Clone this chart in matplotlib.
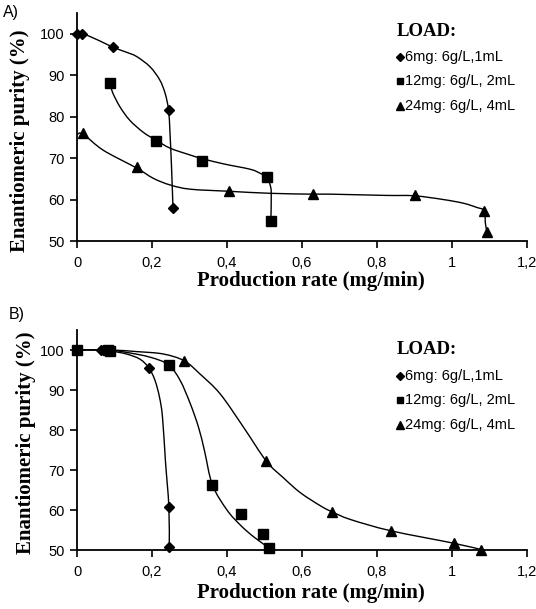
import matplotlib
matplotlib.use("Agg")
import matplotlib.pyplot as plt
from matplotlib.lines import Line2D
from matplotlib.path import Path
from matplotlib.patches import PathPatch
from matplotlib.ticker import FuncFormatter

# ---------------- Panel A: measured points ----------------
a_6mg_x = [0.0, 0.013, 0.097, 0.244, 0.256]
a_6mg_y = [100.0, 100.0, 96.7, 81.7, 57.9]
a_12mg_x = [0.087, 0.211, 0.333, 0.507, 0.517]
a_12mg_y = [88.2, 74.1, 69.4, 65.5, 54.8]
a_24mg_x = [0.016, 0.159, 0.404, 0.629, 0.900, 1.086, 1.093]
a_24mg_y = [76.1, 67.8, 62.0, 61.3, 61.0, 57.3, 52.2]

# Panel A: fitted curves
a_6mg_cx = [0.0, 0.016, 0.060, 0.097, 0.130, 0.159, 0.195, 0.221, 0.235, 0.244, 0.248, 0.252, 0.256]
a_6mg_cy = [100.0, 100.0, 98.3, 96.7, 95.6, 94.5, 92.0, 88.8, 85.6, 81.7, 76.0, 68.0, 57.9]
a_12mg_cx = [0.087, 0.095, 0.115, 0.141, 0.177, 0.211, 0.248, 0.293, 0.333, 0.391, 0.462, 0.489, 0.507, 0.515, 0.518, 0.517]
a_12mg_cy = [88.2, 85.8, 82.3, 79.1, 76.2, 74.3, 72.4, 71.0, 69.9, 68.6, 67.3, 66.3, 65.3, 63.5, 61.5, 54.8]
a_24mg_cx = [0.0, 0.016, 0.070, 0.159, 0.204, 0.249, 0.302, 0.404, 0.516, 0.629, 0.675, 0.822, 0.900, 0.977, 1.031, 1.066, 1.086, 1.089, 1.093]
a_24mg_cy = [75.7, 75.8, 71.9, 67.6, 65.1, 63.5, 62.5, 62.0, 61.5, 61.3, 61.3, 61.0, 60.9, 60.0, 59.1, 58.1, 57.3, 54.3, 52.2]

# ---------------- Panel B: measured points ----------------
b_6mg_x = [0.0, 0.065, 0.192, 0.245, 0.246]
b_6mg_y = [100.0, 100.0, 95.5, 60.8, 50.8]
b_12mg_x = [0.0, 0.083, 0.089, 0.244, 0.361, 0.436, 0.495, 0.511]
b_12mg_y = [100.0, 100.0, 99.8, 96.3, 66.3, 59.1, 54.0, 50.6]
b_24mg_x = [0.286, 0.505, 0.681, 0.837, 1.004, 1.078]
b_24mg_y = [97.3, 72.2, 59.5, 54.8, 51.7, 50.1]

# Panel B: fitted curves
b_6mg_cx = [0.0, 0.065, 0.088, 0.132, 0.168, 0.192, 0.208, 0.220, 0.228, 0.236, 0.245, 0.246]
b_6mg_cy = [100.0, 100.0, 99.8, 99.0, 97.7, 95.5, 92.4, 88.2, 83.2, 72.0, 60.8, 50.8]
b_12mg_cx = [0.0, 0.083, 0.132, 0.195, 0.244, 0.275, 0.302, 0.324, 0.340, 0.361, 0.400, 0.436, 0.471, 0.511]
b_12mg_cy = [100.0, 100.0, 99.4, 98.2, 96.3, 92.4, 86.6, 80.7, 74.8, 66.3, 60.0, 56.2, 53.3, 50.6]
b_24mg_cx = [0.0, 0.089, 0.159, 0.230, 0.286, 0.328, 0.382, 0.444, 0.505, 0.551, 0.596, 0.650, 0.681, 0.730, 0.837, 1.004, 1.078]
b_24mg_cy = [100.0, 100.0, 99.6, 99.0, 97.3, 94.0, 89.0, 80.7, 72.2, 68.0, 64.3, 61.0, 59.5, 57.6, 54.8, 51.7, 50.1]

legend_title = "LOAD:"
legend_labels = ["6mg: 6g/L,1mL", "12mg: 6g/L, 2mL", "24mg: 6g/L, 4mL"]
x_ticks = [0.0, 0.2, 0.4, 0.6, 0.8, 1.0, 1.2]
y_ticks = [50, 60, 70, 80, 90, 100]

W, H = 536, 609
fig = plt.figure(figsize=(W / 100, H / 100), dpi=100)
fig.patch.set_facecolor("white")

SANS = "Liberation Sans"
SERIF = "Liberation Serif"


def px(x, y):
    """Pixel position (from top-left) to figure fraction."""
    return x / W, 1 - y / H


def comma_fmt(v, _pos):
    s = f"{v:.1f}".rstrip("0").rstrip(".")
    return s.replace(".", ",")


def smooth_path(xs, ys):
    """Cubic Bezier path through the given points (Catmull-Rom tangents)."""
    pts = list(zip(xs, ys))
    n = len(pts)
    verts = [pts[0]]
    codes = [Path.MOVETO]
    for i in range(n - 1):
        p0 = pts[i - 1] if i > 0 else pts[i]
        p1 = pts[i]
        p2 = pts[i + 1]
        p3 = pts[i + 2] if i + 2 < n else pts[i + 1]
        c1 = (p1[0] + (p2[0] - p0[0]) / 6, p1[1] + (p2[1] - p0[1]) / 6)
        c2 = (p2[0] - (p3[0] - p1[0]) / 6, p2[1] - (p3[1] - p1[1]) / 6)
        verts += [c1, c2, p2]
        codes += [Path.CURVE4] * 3
    return Path(verts, codes)


def make_axes(left, top, right, bottom):
    x0, y0 = px(left, bottom)
    ax = fig.add_axes([x0, y0, (right - left) / W, (bottom - top) / H])
    ax.set_xlim(0, 1.2)
    ax.set_ylim(50, 105)
    ax.set_xticks(x_ticks)
    ax.set_yticks(y_ticks)
    ax.xaxis.set_major_formatter(FuncFormatter(comma_fmt))
    for s in ("top", "right"):
        ax.spines[s].set_visible(False)
    for s in ("left", "bottom"):
        ax.spines[s].set_linewidth(1.3)
    ax.tick_params(axis="both", direction="out", length=5, width=1.2, labelsize=10.5)
    ax.tick_params(axis="x", pad=6)
    ax.tick_params(axis="y", pad=4)
    for lab in ax.get_xticklabels() + ax.get_yticklabels():
        lab.set_fontfamily(SANS)
    ax.patch.set_alpha(0)
    return ax


def draw_panel(ax, curves, points):
    for cx, cy in curves:
        ax.add_patch(PathPatch(smooth_path(cx, cy), fill=False, edgecolor="black",
                               lw=1.0, zorder=2, clip_on=False))
    markers = ["D", "s", "^"]
    sizes = [5.5, 6.5, 7]
    for (mx, my), m, s in zip(points, markers, sizes):
        ax.plot(mx, my, linestyle="none", marker=m, ms=s, color="black",
                zorder=3, clip_on=False)


def draw_legend(title_xy, rows_y, mark_x, text_x):
    fig.text(*px(*title_xy), legend_title, fontfamily=SERIF, fontweight="bold",
             fontsize=13.5, ha="left", va="center")
    markers = ["D", "s", "^"]
    sizes = [4, 5, 5.5]
    for y, lab, m, s in zip(rows_y, legend_labels, markers, sizes):
        mx, my = px(mark_x, y)
        fig.add_artist(Line2D([mx], [my], marker=m, ms=s, color="black",
                              linestyle="none", transform=fig.transFigure))
        fig.text(*px(text_x, y), lab, fontfamily=SANS, fontsize=10.5,
                 ha="left", va="center")


# ---- Panel A ----
axA = make_axes(77, 13, 527, 241)
draw_panel(axA,
           [(a_6mg_cx, a_6mg_cy), (a_12mg_cx, a_12mg_cy), (a_24mg_cx, a_24mg_cy)],
           [(a_6mg_x, a_6mg_y), (a_12mg_x, a_12mg_y), (a_24mg_x, a_24mg_y)])
fig.text(*px(311, 281), "Production rate (mg/min)", fontfamily=SERIF,
         fontweight="bold", fontsize=15, ha="center", va="center")
fig.text(*px(20, 141), "Enantiomeric purity (%)", fontfamily=SERIF,
         fontweight="bold", fontsize=15, ha="center", va="center", rotation=90)
fig.text(*px(3, 12), "A)", fontfamily=SANS, fontsize=11.5, ha="left", va="center")
draw_legend((397, 32), [57, 81, 106], 400, 405)

# ---- Panel B ----
axB = make_axes(77, 330, 527, 550)
draw_panel(axB,
           [(b_6mg_cx, b_6mg_cy), (b_12mg_cx, b_12mg_cy), (b_24mg_cx, b_24mg_cy)],
           [(b_6mg_x, b_6mg_y), (b_12mg_x, b_12mg_y), (b_24mg_x, b_24mg_y)])
fig.text(*px(311, 593), "Production rate (mg/min)", fontfamily=SERIF,
         fontweight="bold", fontsize=15, ha="center", va="center")
fig.text(*px(26, 443), "Enantiomeric purity (%)", fontfamily=SERIF,
         fontweight="bold", fontsize=15, ha="center", va="center", rotation=90)
fig.text(*px(9, 315), "B)", fontfamily=SANS, fontsize=11.5, ha="left", va="center")
draw_legend((397, 350), [376, 400, 425], 400, 405)

fig.savefig("out.png", dpi=100, facecolor="white")
